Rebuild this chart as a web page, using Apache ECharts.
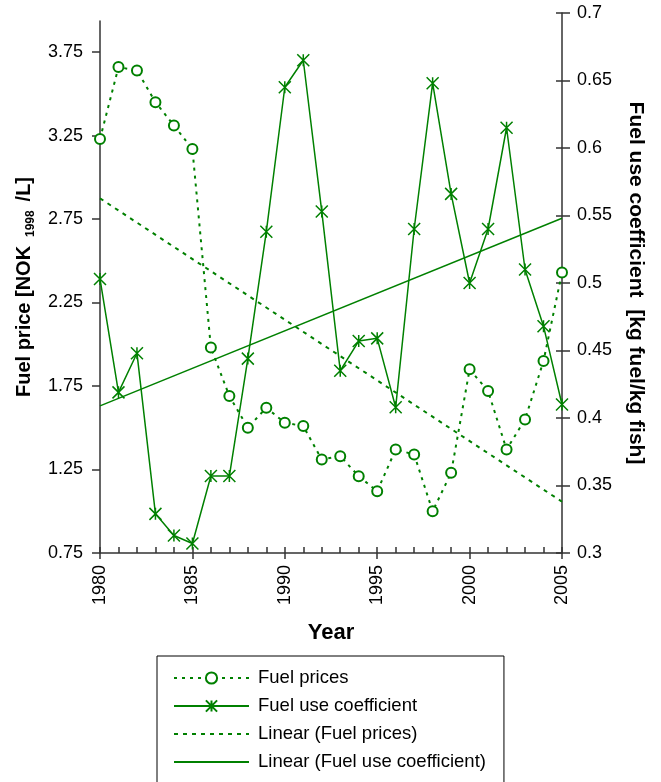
<!DOCTYPE html>
<html>
<head>
<meta charset="utf-8">
<script src="https://cdn.jsdelivr.net/npm/echarts@6/dist/echarts.min.js"></script>
<style>html,body{margin:0;padding:0;background:#fff;}#c{width:661px;height:782px;}</style>
</head>
<body>
<div id="c"></div>
<script>
var years = [1980,1981,1982,1983,1984,1985,1986,1987,1988,1989,1990,1991,1992,1993,1994,1995,1996,1997,1998,1999,2000,2001,2002,2003,2004,2005];
var fuelPrices = [3.23,3.66,3.64,3.45,3.31,3.17,1.98,1.69,1.50,1.62,1.53,1.51,1.31,1.33,1.21,1.12,1.37,1.34,1.00,1.23,1.85,1.72,1.37,1.55,1.90,2.43];
var fuelUse = [0.503,0.419,0.448,0.329,0.313,0.307,0.357,0.357,0.444,0.538,0.645,0.665,0.553,0.435,0.457,0.459,0.408,0.540,0.648,0.566,0.500,0.540,0.615,0.510,0.468,0.410];
var trendYears = [1980, 2005];
var priceTrend = [2.874, 1.057];
var useTrend = [0.409, 0.548];
var leftTicks = [0.75,1.25,1.75,2.25,2.75,3.25,3.75];
var seriesNames = ['Fuel prices','Fuel use coefficient','Linear (Fuel prices)','Linear (Fuel use coefficient)'];

function zip(a, b) { return a.map(function (v, i) { return [v, b[i]]; }); }

var GREEN = '#008000';
var AX = '#333333';
var FONT = 'Liberation Sans, Arial, sans-serif';
var NOSYM = {color: 'rgba(0,0,0,0)', borderColor: 'rgba(0,0,0,0)', borderWidth: 0, opacity: 0};

var chart = echarts.init(document.getElementById('c'), null, {renderer: 'canvas'});
chart.setOption({
  animation: false,
  backgroundColor: '#fff',
  textStyle: {fontFamily: FONT, color: '#000'},
  grid: [
    {left: 100, right: 99, top: 13, bottom: 229},
    {left: 100, right: 99, top: 21, bottom: 229}
  ],
  xAxis: [
    {
      type: 'value', gridIndex: 0, position: 'bottom', min: 1980, max: 2005, interval: 1,
      axisLine: {show: true, lineStyle: {color: AX, width: 1.5}},
      axisTick: {show: true, inside: true, length: 6, lineStyle: {color: AX, width: 1.5}},
      splitLine: {show: false},
      axisLabel: {rotate: 90, fontSize: 18, color: '#000', margin: 12, fontFamily: FONT,
        formatter: function (v) { return v % 5 === 0 ? String(v) : ''; }},
      name: 'Year', nameLocation: 'middle', nameGap: 69,
      nameTextStyle: {fontSize: 22, fontWeight: 'bold', color: '#000', fontFamily: FONT}
    },
    {
      type: 'value', gridIndex: 0, position: 'bottom', min: 1980, max: 2005, interval: 5,
      axisLine: {show: false},
      axisTick: {show: true, inside: false, length: 6, lineStyle: {color: AX, width: 1.5}},
      splitLine: {show: false}, axisLabel: {show: false}
    },
    {
      type: 'value', gridIndex: 1, position: 'bottom', min: 1980, max: 2005, show: false
    }
  ],
  yAxis: [
    {
      type: 'value', gridIndex: 1, position: 'left', min: 0.75, max: 3.936, interval: 0.5,
      axisLine: {show: true, lineStyle: {color: AX, width: 1.5}},
      axisTick: {show: true, inside: false, length: 8, customValues: leftTicks, lineStyle: {color: AX, width: 1.5}},
      splitLine: {show: false},
      axisLabel: {customValues: leftTicks, fontSize: 18, color: '#000', margin: 17, fontFamily: FONT,
        formatter: function (v) { return v.toFixed(2); }},
      name: '{a|Fuel price [NOK }{s| 1998 }{a| /L]}',
      nameLocation: 'middle', nameRotate: 90, nameGap: 64,
      nameTextStyle: {
        rich: {
          a: {fontSize: 20, fontWeight: 'bold', color: '#000', fontFamily: FONT, lineHeight: 24, verticalAlign: 'bottom'},
          s: {fontSize: 12, fontWeight: 'bold', color: '#000', fontFamily: FONT, lineHeight: 24, verticalAlign: 'bottom', padding: [0, 0, -3, 0]}
        }
      }
    },
    {
      type: 'value', gridIndex: 0, position: 'right', min: 0.3, max: 0.7, interval: 0.05,
      axisLine: {show: true, lineStyle: {color: AX, width: 1.5}},
      axisTick: {show: true, inside: false, length: 8, lineStyle: {color: AX, width: 1.5}},
      splitLine: {show: false},
      axisLabel: {fontSize: 18, color: '#000', margin: 15, fontFamily: FONT,
        formatter: function (v) { return String(Math.round(v * 100) / 100); }},
      name: 'Fuel use coefficient  [kg fuel/kg fish]',
      nameLocation: 'middle', nameRotate: -90, nameGap: 63,
      nameTextStyle: {fontSize: 21, fontWeight: 'bold', color: '#000', fontFamily: FONT}
    },
    {
      type: 'value', gridIndex: 0, position: 'right', min: 0.3, max: 0.7, interval: 0.05,
      axisLine: {show: false},
      axisTick: {show: true, inside: true, length: 6, lineStyle: {color: AX, width: 1.5}},
      splitLine: {show: false}, axisLabel: {show: false}
    }
  ],
  legend: {
    orient: 'vertical', left: 157, top: 656, height: 300,
    itemWidth: 75, itemHeight: 14, itemGap: 8,
    borderColor: '#000', borderWidth: 1,
    padding: [12, 18, 40, 16],
    textStyle: {fontSize: 18.5, color: '#000', fontFamily: FONT, lineHeight: 20, padding: [0, 0, 0, 4]},
    data: [
      {name: seriesNames[0]},
      {name: seriesNames[1]},
      {name: seriesNames[2], itemStyle: NOSYM},
      {name: seriesNames[3], itemStyle: NOSYM}
    ]
  },
  series: [
    {
      name: seriesNames[0], type: 'line', xAxisIndex: 2, yAxisIndex: 0,
      data: zip(years, fuelPrices),
      symbol: 'emptyCircle', symbolSize: 10,
      lineStyle: {color: GREEN, width: 2, type: [3, 5]},
      itemStyle: {color: GREEN, borderWidth: 1.5}
    },
    {
      name: seriesNames[1], type: 'line', xAxisIndex: 0, yAxisIndex: 1,
      data: zip(years, fuelUse),
      symbol: 'path://M0,0L12,12M12,0L0,12M6,0L6,12', symbolSize: 12,
      lineStyle: {color: GREEN, width: 1.5, type: 'solid'},
      itemStyle: {color: GREEN, borderColor: GREEN, borderWidth: 1.5}
    },
    {
      name: seriesNames[2], type: 'line', xAxisIndex: 2, yAxisIndex: 0,
      data: zip(trendYears, priceTrend),
      symbol: 'none', showSymbol: false,
      lineStyle: {color: GREEN, width: 2, type: [4, 5]},
      itemStyle: {color: GREEN}
    },
    {
      name: seriesNames[3], type: 'line', xAxisIndex: 0, yAxisIndex: 1,
      data: zip(trendYears, useTrend),
      symbol: 'none', showSymbol: false,
      lineStyle: {color: GREEN, width: 1.5, type: 'solid'},
      itemStyle: {color: GREEN}
    }
  ]
});
</script>
</body>
</html>
